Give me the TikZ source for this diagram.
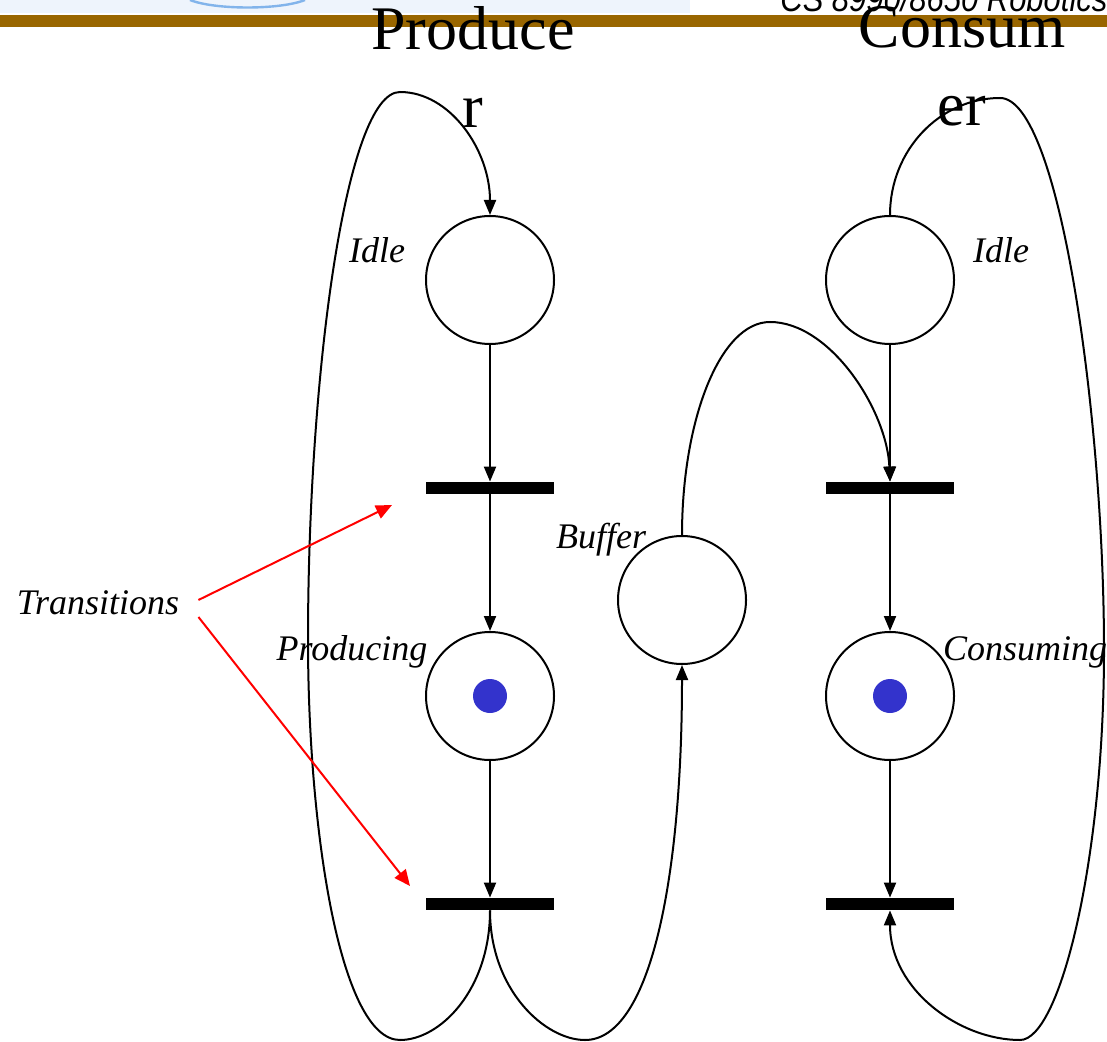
\documentclass[tikz,border=0pt]{standalone}
\usepackage{fontspec}
\setmainfont{Liberation Serif}
\setsansfont{Liberation Sans}
\newfontfamily\headfont{Liberation Sans}[FakeStretch=0.86]
\usetikzlibrary{arrows.meta}
\definecolor{barbrown}{RGB}{153,102,0}
\definecolor{tokenblue}{RGB}{51,51,204}
\definecolor{logoblue}{RGB}{130,180,235}
\definecolor{logopale}{RGB}{238,244,252}

\begin{document}
\begin{tikzpicture}[x=0.5pt,y=-0.5pt,node distance=104pt,
    place/.style={circle,draw,line width=1pt,minimum size=64pt,inner sep=0pt},
    trans/.style={rectangle,fill=black,minimum width=64pt,minimum height=6pt,inner sep=0pt},
    token/.style={circle,fill=tokenblue,minimum size=17pt,inner sep=0pt},
    lbl/.style={font=\fontsize{18}{20}\selectfont\itshape,inner sep=0pt},
    title/.style={font=\fontsize{31}{39}\selectfont,align=center,inner sep=0pt},
    arc/.style={line width=1pt,-{Triangle[length=7.5pt,width=6pt]}},
    pointer/.style={red,line width=1pt,-{Triangle[length=8pt,width=7pt]}}]
    \useasboundingbox (0,0) rectangle (1107,1042);

    % slide header
    \fill[logopale] (0,0) rectangle (690,13);
    \draw[logoblue,line width=1.2pt] (190,0) .. controls (215,10) and (280,10) .. (305,0);
    \fill[barbrown] (0,15) rectangle (1107,27);
    \node[font=\headfont\itshape\fontsize{18}{18}\selectfont,anchor=base west,inner sep=0pt] (course) at (780,12) {CS 8990/8650 Robotics};

    \node[title,anchor=north] (producer) at (473,6) {Produce\\r};
    \node[title,anchor=north] (consumer) at (962,6) {Consum\\er};

    % producer side
    \node[place] (pidle) at (490,280) {};
    \node[trans, below of=pidle] (pstart) {};
    \node[place, below of=pstart] (prod) {};
    \node[trans, below of=prod] (pdone) {};
    \node[token] (ptok) at (prod) {};

    % consumer side
    \node[place, right of=pidle, node distance=200pt] (cidle) {};
    \node[trans, below of=cidle] (cstart) {};
    \node[place, below of=cstart] (cons) {};
    \node[trans, below of=cons] (cdone) {};
    \node[token] (ctok) at (cons) {};

    \node[place] (buffer) at (682,600) {};

    % labels
    \node[lbl] (pidlelbl) at (377,250) {Idle};
    \node[lbl] (cidlelbl) at (1001,250) {Idle};
    \node[lbl] (bufferlbl) at (601,540) {Buffer};
    \node[lbl] (prodlbl) at (352,652) {Producing};
    \node[lbl] (conslbl) at (1025,652) {Consuming};
    \node[lbl] (transitions) at (98,603) {Transitions};

    % arcs
    \draw[arc] (pidle) -- (pstart);
    \draw[arc] (pstart) -- (prod);
    \draw[arc] (prod) -- (pdone);
    \draw[arc] (cidle) -- (cstart);
    \draw[arc] (cstart) -- (cons);
    \draw[arc] (cons) -- (cdone);

    \draw[arc] (pdone.south) .. controls (490,990) and (440,1040) .. (400,1040)
        .. controls (340,1040) and (308,830) .. (308,640)
        .. controls (308,380) and (345,92) .. (400,92)
        .. controls (450,92) and (490,150) .. (pidle.north);
    \draw[arc] (pdone.south) .. controls (490,990) and (545,1040) .. (585,1040)
        .. controls (650,1040) and (682,880) .. (buffer.south);
    \draw[arc] (buffer.north) .. controls (682,420) and (720,322) .. (770,322)
        .. controls (830,322) and (887,410) .. (cstart.north);
    \draw[arc] (cidle.north) .. controls (890,150) and (940,98) .. (1000,98)
        .. controls (1060,98) and (1104,420) .. (1104,650)
        .. controls (1104,860) and (1060,1040) .. (1020,1040)
        .. controls (960,1040) and (890,990) .. (cdone.south);

    % pointers to the transitions
    \coordinate (ptrup) at (392,505);
    \coordinate (ptrdown) at (410,886);
    \draw[pointer] ([xshift=9.5pt,yshift=1.5pt]transitions.east) -- (ptrup);
    \draw[pointer] ([xshift=9.5pt,yshift=-7pt]transitions.east) -- (ptrdown);
\end{tikzpicture}
\end{document}
